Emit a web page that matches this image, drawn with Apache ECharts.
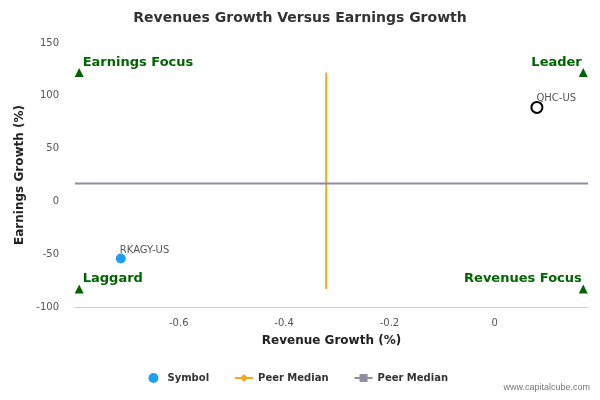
<!DOCTYPE html>
<html><head><meta charset="utf-8">
<script src="https://cdn.jsdelivr.net/npm/echarts@6/dist/echarts.min.js"></script>
<style>body{margin:0}#c{width:600px;height:400px}</style></head>
<body><div id="c"></div>
<script>
// data
const symbolPoints = [[-0.71, -54, 'RKAGY-US']];
const peerPoint = [[0.08, 89, 'QHC-US']];
const peerMedianX = -0.32;
const peerMedianY = 17;
const quadrants = [
    [-0.789, 122, 'Earnings Focus', 'right'],
    [0.168, 122, 'Leader', 'left'],
    [-0.789, -83, 'Laggard', 'right'],
    [0.168, -83, 'Revenues Focus', 'left']
];
const xMin = -0.797, xMax = 0.177;

let chart = echarts.init(document.getElementById('c'));
chart.setOption({
    animation: false,
    textStyle: {fontFamily: 'DejaVu Sans'},
    title: {
        text: 'Revenues Growth Versus Earnings Growth',
        left: 'center', top: 6,
        textStyle: {fontSize: 14, fontWeight: 'bold', color: '#333'}
    },
    grid: {left: 75, right: 12, top: 43, bottom: 93},
    xAxis: {
        type: 'value', min: xMin, max: xMax,
        name: 'Revenue Growth (%)', nameLocation: 'middle', nameGap: 28,
        nameTextStyle: {fontWeight: 'bold', fontSize: 12, color: '#222'},
        axisLine: {onZero: false, lineStyle: {color: '#ccc'}},
        axisTick: {show: false},
        splitLine: {show: false},
        axisLabel: {
            color: '#555', fontSize: 10, margin: 11,
            customValues: [-0.6, -0.4, -0.2, 0],
            formatter: v => Math.abs(v) < 1e-9 ? '0' : v.toFixed(1)
        }
    },
    yAxis: {
        type: 'value', min: -100, max: 150, interval: 50,
        name: 'Earnings Growth (%)', nameLocation: 'middle', nameGap: 48,
        nameTextStyle: {fontWeight: 'bold', fontSize: 12, color: '#222'},
        axisLine: {show: false}, axisTick: {show: false}, splitLine: {show: false},
        axisLabel: {color: '#555', fontSize: 10, margin: 16}
    },
    legend: {
        bottom: 12, left: 'center', itemGap: 25, itemWidth: 18, itemHeight: 10,
        textStyle: {fontSize: 10, fontWeight: 'bold', color: '#333'},
        data: [
            {name: 'Symbol', icon: 'circle'},
            {name: 'Peer Median'},
            {name: 'Peer Median '}
        ]
    },
    graphic: [{
        type: 'text', right: 10, bottom: 8,
        style: {text: 'www.capitalcube.com', fontSize: 9, fill: '#777'}
    }],
    series: [
        {
            name: 'Symbol', type: 'scatter', symbolSize: 10,
            itemStyle: {color: '#1ea0f0', opacity: 1},
            data: symbolPoints,
            label: {show: true, formatter: p => p.data[2], position: [4, -8], color: '#555', fontSize: 10},
            z: 5
        },
        {
            name: 'peer', type: 'scatter', symbolSize: 11,
            itemStyle: {color: '#fff', borderColor: '#000', borderWidth: 2, opacity: 1},
            data: peerPoint,
            label: {show: true, formatter: p => p.data[2], position: [6, -8], color: '#555', fontSize: 10},
            z: 5
        },
        {
            name: 'Peer Median', type: 'line', symbol: 'diamond', showSymbol: false,
            lineStyle: {color: '#f5a623', width: 2}, itemStyle: {color: '#f5a623'},
            data: [[peerMedianX, 122], [peerMedianX, -83]]
        },
        {
            name: 'Peer Median ', type: 'line', symbol: 'rect', showSymbol: false,
            lineStyle: {color: '#8e8e9e', width: 2}, itemStyle: {color: '#8e8e9e'},
            data: [[xMin, peerMedianY], [xMax, peerMedianY]]
        },
        {
            name: 'quad', type: 'scatter', symbol: 'triangle', symbolSize: 9,
            itemStyle: {color: '#006400', opacity: 1},
            data: quadrants.map(q => ({
                value: [q[0], q[1]],
                label: {show: true, formatter: q[2], position: q[3] === 'right' ? [8, -12] : [3, -12],
                    align: q[3] === 'right' ? 'left' : 'right',
                    color: '#006400', fontWeight: 'bold', fontSize: 13}
            })),
            z: 6
        }
    ]
});
</script></body></html>
